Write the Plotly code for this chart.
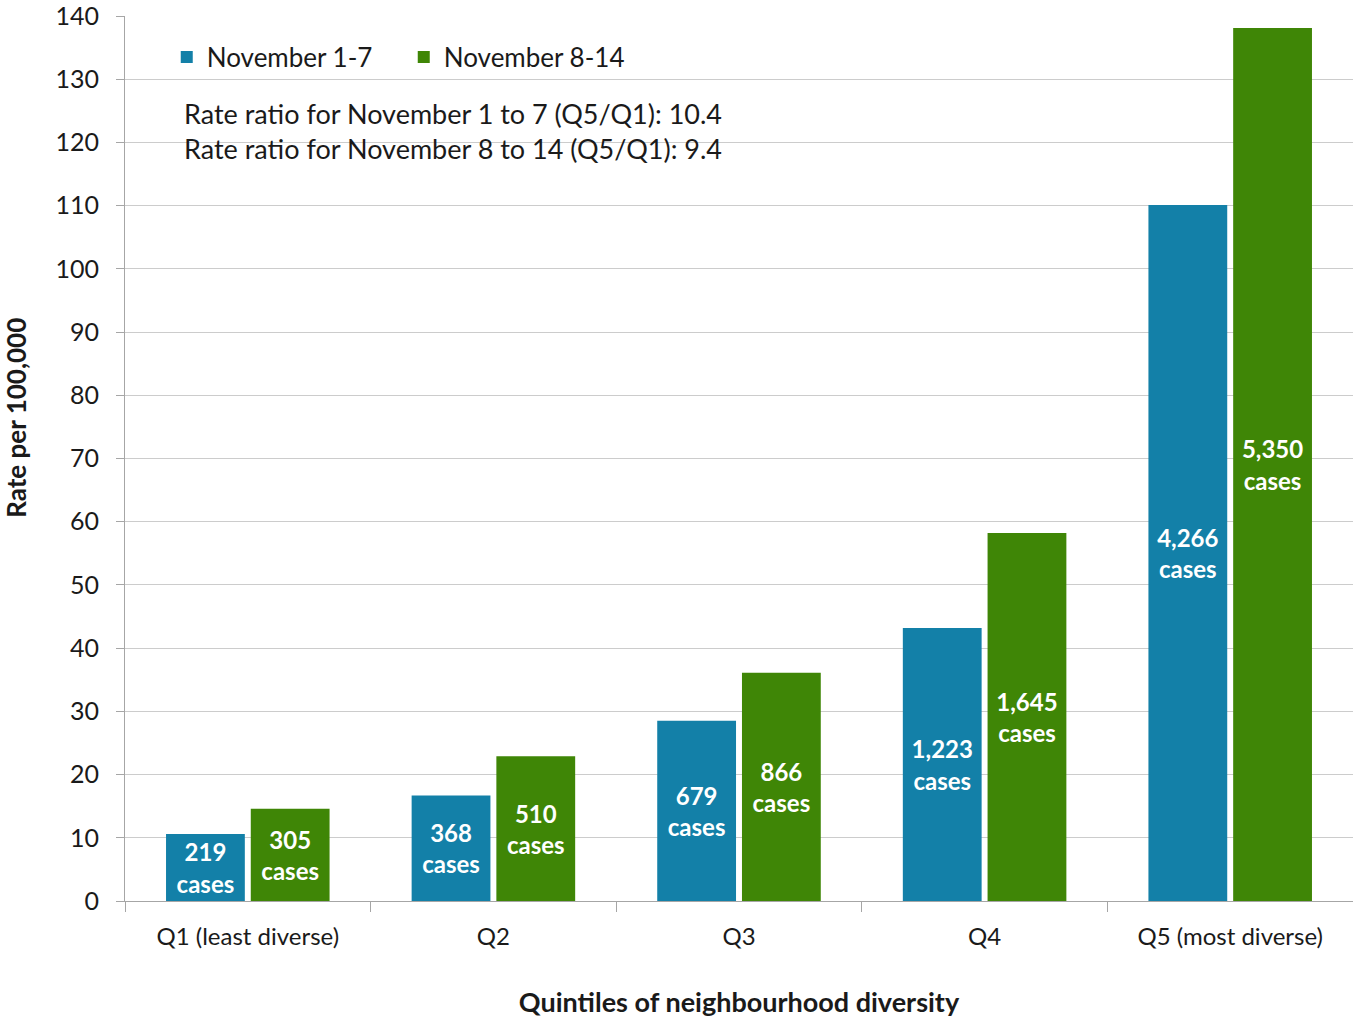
import plotly.graph_objects as go

categories = ["Q1 (least diverse)", "Q2", "Q3", "Q4", "Q5 (most diverse)"]
rate_nov1_7 = [10.6, 16.7, 28.5, 43.2, 110.1]
rate_nov8_14 = [14.6, 22.9, 36.1, 58.2, 138.1]
cases_nov1_7 = ["219", "368", "679", "1,223", "4,266"]
cases_nov8_14 = ["305", "510", "866", "1,645", "5,350"]
y_ticks = list(range(0, 141, 10))

BLUE = "#1380a8"
GREEN = "#3f8606"
FONT = "Lato"
TXT = "#1a1a1a"

fig = go.Figure()
for name, vals, cases, color in [
    ("November 1-7", rate_nov1_7, cases_nov1_7, BLUE),
    ("November 8-14", rate_nov8_14, cases_nov8_14, GREEN),
]:
    fig.add_trace(go.Bar(
        name=name, x=categories, y=vals, customdata=cases,
        marker=dict(color=color, line=dict(width=0)),
        texttemplate="<b>%{customdata}</b><br><b>cases</b>",
        textposition="inside", insidetextanchor="middle",
        insidetextfont=dict(family=FONT, size=24, color="white"),
        constraintext="none",
        hoverinfo="skip",
    ))

# white panels behind the legend and the ratio note (hide gridlines there)
for x0, x1, y0, y1 in [(0.0065, 0.437, 0.911, 0.995), (0.031, 0.523, 0.828, 0.911)]:
    fig.add_shape(type="rect", xref="paper", yref="paper", x0=x0, x1=x1, y0=y0, y1=y1,
                  fillcolor="white", line=dict(width=0), layer="between")

fig.add_annotation(
    xref="paper", yref="paper", x=0.047, y=0.870, xanchor="left", yanchor="middle",
    align="left", showarrow=False,
    text="Rate ratio for November 1 to 7 (Q5/Q1): 10.4<br>Rate ratio for November 8 to 14 (Q5/Q1): 9.4",
    font=dict(family=FONT, size=27, color=TXT), borderpad=0,
)
fig.add_annotation(
    xref="paper", yref="paper", x=-0.0888, y=0.546, xanchor="center", yanchor="middle",
    textangle=-90, showarrow=False,
    text="<b>Rate per 100,000</b>", font=dict(family=FONT, size=26, color=TXT),
)

fig.update_layout(
    width=1353, height=1020,
    margin=dict(l=125, r=0, t=16, b=119),
    paper_bgcolor="white", plot_bgcolor="white",
    barmode="group", bargap=0.31, bargroupgap=0.07,
    font=dict(family=FONT, size=22, color=TXT),
    legend=dict(
        orientation="h", x=0.034, y=0.980, xanchor="left", yanchor="top",
        bgcolor="rgba(0,0,0,0)", font=dict(family=FONT, size=26, color=TXT),
        entrywidth=192, entrywidthmode="pixels", tracegroupgap=0,
    ),
    showlegend=True,
)
fig.update_yaxes(
    range=[0, 140], tickvals=y_ticks, showgrid=True, gridcolor="#cccccc", gridwidth=1,
    showline=True, linecolor="#a6a6a6", linewidth=1,
    ticks="outside", ticklen=8, tickcolor="#a6a6a6",
    tickfont=dict(family=FONT, size=25, color=TXT),
    ticklabelstandoff=12, ticklabeloverflow="allow", zeroline=False,
)
fig.update_xaxes(
    showline=True, linecolor="#a6a6a6", linewidth=1,
    ticks="outside", ticklen=10, tickcolor="#a6a6a6", tickson="boundaries",
    tickfont=dict(family=FONT, size=24, color=TXT), ticklabelstandoff=14,
    title=dict(text="<b>Quintiles of neighbourhood diversity</b>", font=dict(family=FONT, size=27, color=TXT), standoff=44),
)

fig.write_html("out.html", config={"displayModeBar": False},
               post_script="document.body.style.margin='0px';")
